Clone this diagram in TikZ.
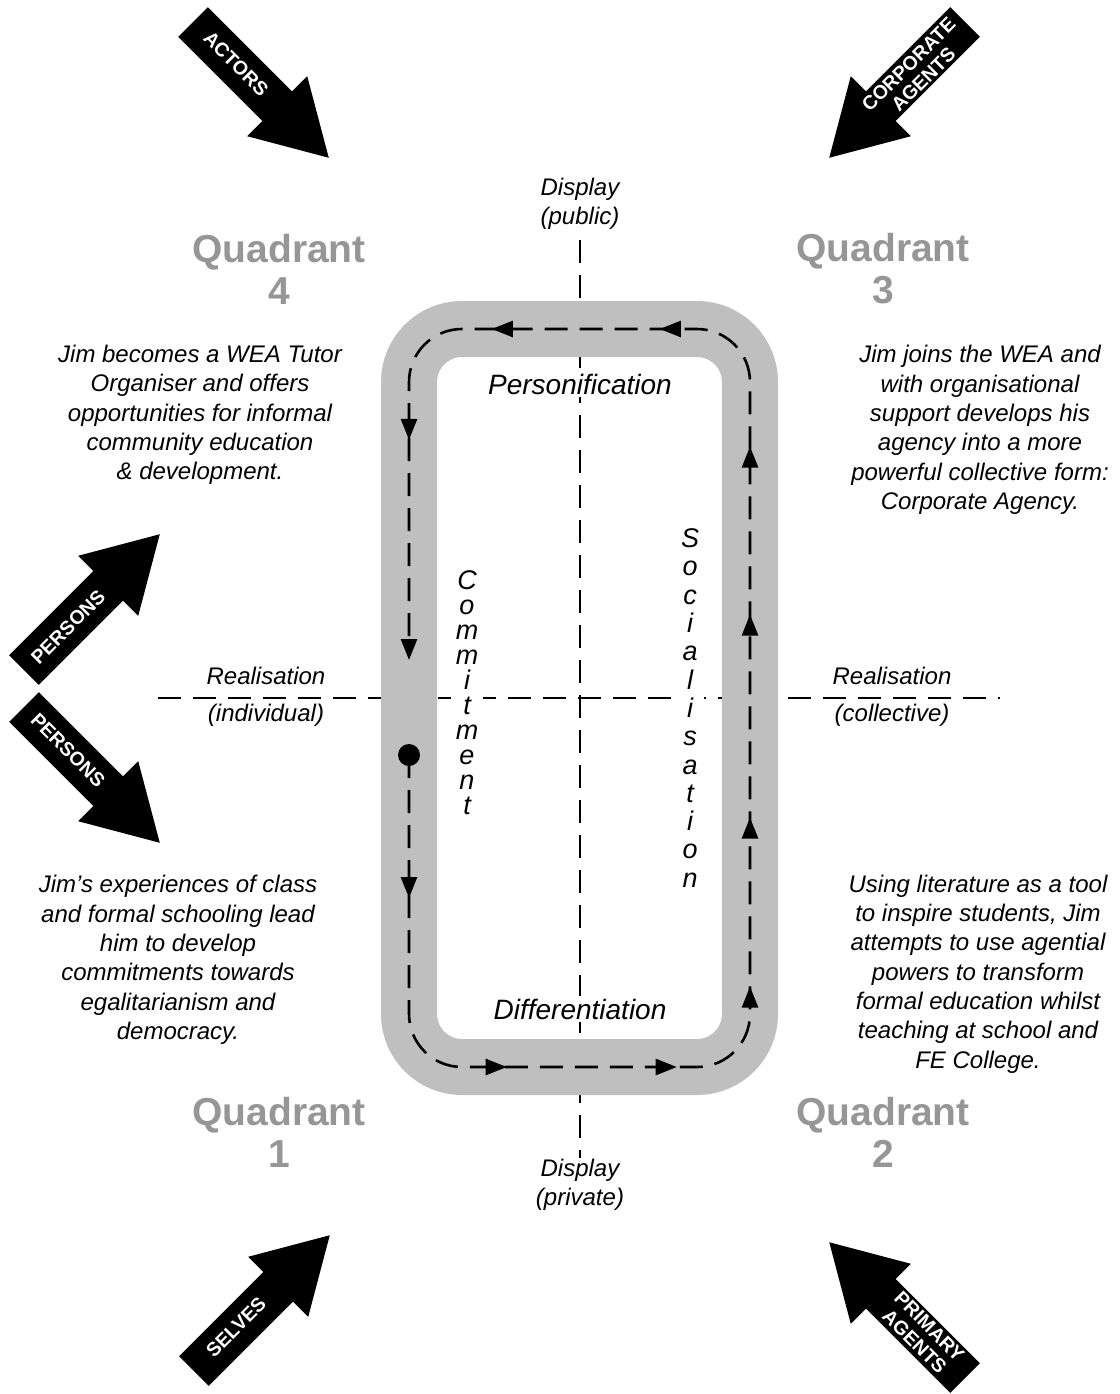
\documentclass[tikz,border=0pt]{standalone}
\usepackage{fontspec}
\setmainfont{Liberation Sans}
\usetikzlibrary{arrows.meta,decorations.markings}
\definecolor{bandgray}{RGB}{191,191,191}
\definecolor{quadgray}{RGB}{150,150,150}

\begin{document}
\begin{tikzpicture}[x=1pt,y=-1pt,
  axis/.style={line width=2.2pt, dash pattern=on 23pt off 12pt},
  looppath/.style={line width=2.6pt, dash pattern=on 23pt off 12pt},
  body/.style={align=center, font=\itshape\fontsize{24}{29.3}\selectfont},
  axislabel/.style={align=center, font=\itshape\fontsize{24}{29}\selectfont},
  quad/.style={align=center, text=quadgray, font=\bfseries\fontsize{39}{42}\selectfont},
  looplabel/.style={fill=white, inner sep=3pt, font=\itshape\fontsize{28}{30}\selectfont},
  vertlabel/.style={fill=white, align=center, inner xsep=5pt, inner ysep=4pt},
  arrowlabel/.style={text=white, align=center, font=\bfseries\fontsize{19.5}{21}\selectfont},
  dot/.style={circle, fill=black, inner sep=0pt, minimum size=22pt},
  blockarrow/.pic={\fill[black] (0,-21) -- (119,-21) -- (119,-42.5) -- (192,0)
                   -- (119,42.5) -- (119,21) -- (0,21) -- cycle;},
  looptip/.tip={Triangle[length=21pt,width=16pt]}
]
\useasboundingbox (0,0) rectangle (1119,1394);

% the two axes
\coordinate (axL) at (158,698);
\coordinate (axR) at (1000,698);
\coordinate (axT) at (580,240);
\coordinate (axB) at (580,1158);
\draw[axis] (axL) -- (axR);
\draw[axis] (axT) -- (axB);

% axis labels
\node[axislabel] (dpub) at (580,204) {Display\\(public)};
\node[axislabel] (dpriv) at (580,1185) {Display\\(private)};
\node[axislabel, font=\itshape\fontsize{24}{37}\selectfont] (rind) at (266,697) {Realisation\\(individual)};
\node[axislabel, font=\itshape\fontsize{24}{37}\selectfont] (rcol) at (892,697) {Realisation\\(collective)};

% grey band of the cycle
\draw[bandgray, line width=56pt, rounded corners=53pt] (409,329) rectangle (750,1067);

% dashed cycle with direction marks
\coordinate (start) at (409,755);
\coordinate (c1) at (409,1067);
\coordinate (c2) at (750,1067);
\coordinate (c3) at (750,329);
\coordinate (c4) at (409,329);
\coordinate (stop) at (409,660);
\draw[looppath, rounded corners=53pt, -looptip,
  postaction={decorate},
  decoration={markings,
    mark=at position 143pt with {\arrow{looptip}},
    mark=at position 387pt with {\arrow{looptip}},
    mark=at position 557pt with {\arrow{looptip}},
    mark=at position 688pt with {\arrow{looptip}},
    mark=at position 857pt with {\arrow{looptip}},
    mark=at position 1060pt with {\arrow{looptip}},
    mark=at position 1228pt with {\arrow{looptip}},
    mark=at position 1413pt with {\arrow{looptip}},
    mark=at position 1581pt with {\arrow{looptip}},
    mark=at position 1752pt with {\arrow{looptip}}}]
  (start) -- (c1) -- (c2) -- (c3) -- (c4) -- (stop);
\node[dot] (startdot) at (start) {};

% labels of the cycle
\node[looplabel] (pers) at (580,384) {Personification};
\node[looplabel] (diff) at (580,1009) {Differentiation};
\node[vertlabel, font=\itshape\fontsize{27}{25}\selectfont] (commit) at (467,693)
  {C\\o\\m\\m\\i\\t\\m\\e\\n\\t};
\node[vertlabel, font=\itshape\fontsize{27}{28.3}\selectfont] (social) at (690,708)
  {S\\o\\c\\i\\a\\l\\i\\s\\a\\t\\i\\o\\n};

% quadrant titles
\node[quad] (q4) at (279,269) {Quadrant\\4};
\node[quad] (q3) at (883,269) {Quadrant\\3};
\node[quad] (q1) at (279,1132) {Quadrant\\1};
\node[quad] (q2) at (883,1132) {Quadrant\\2};

% quadrant descriptions
\node[body] (t4) at (200,415) {Jim becomes a WEA Tutor\\Organiser and offers\\opportunities for informal\\community education\\\& development.};
\node[body] (t3) at (980,430) {Jim joins the WEA and\\with organisational\\support develops his\\agency into a more\\powerful collective form:\\Corporate Agency.};
\node[body] (t1) at (178,960) {Jim’s experiences of class\\and formal schooling lead\\him to develop\\commitments towards\\egalitarianism and\\democracy.};
\node[body] (t2) at (978,974) {Using literature as a tool\\to inspire students, Jim\\attempts to use agential\\powers to transform\\formal education whilst\\teaching at school and\\FE College.};

% block arrows at the margins
\pic[rotate=-45] (arrActors) at (193,22) {blockarrow};
\pic[rotate=-135] (arrCorp) at (965,22) {blockarrow};
\pic[rotate=45] (arrPersU) at (24,670) {blockarrow};
\pic[rotate=-45] (arrPersL) at (24,707) {blockarrow};
\pic[rotate=45] (arrSelves) at (194,1371) {blockarrow};
\pic[rotate=135] (arrPrim) at (965,1378) {blockarrow};

\node[arrowlabel, rotate=-45] (lActors) at (236,64) {ACTORS};
\node[arrowlabel, rotate=45] (lCorp) at (916,72) {CORPORATE\\AGENTS};
\node[arrowlabel, rotate=45] (lPersU) at (68,627) {PERSONS};
\node[arrowlabel, rotate=-45] (lPersL) at (68,750) {PERSONS};
\node[arrowlabel, rotate=45] (lSelves) at (236,1327) {SELVES};
\node[arrowlabel, rotate=-45] (lPrim) at (922,1334) {PRIMARY\\AGENTS};
\end{tikzpicture}
\end{document}
